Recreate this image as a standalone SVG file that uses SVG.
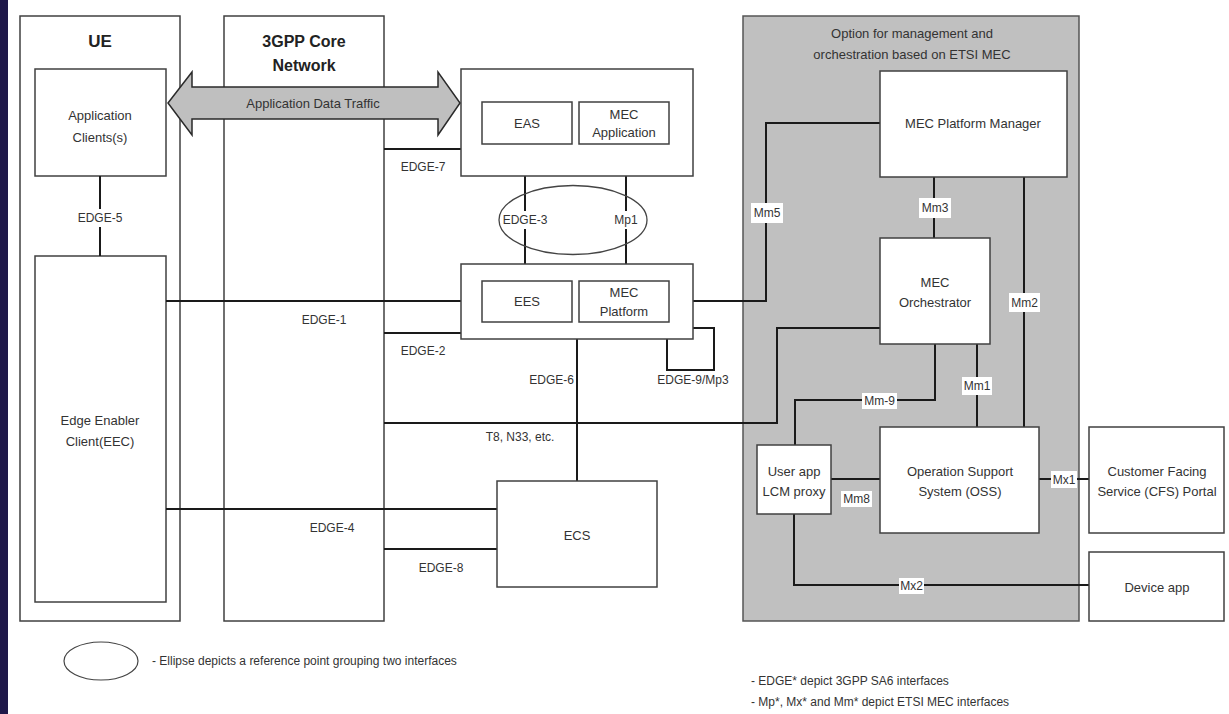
<svg xmlns="http://www.w3.org/2000/svg" width="1229" height="714" viewBox="0 0 1229 714">
<style>
.box{fill:#fff;stroke:#404040;stroke-width:1.5}
.grey{fill:#c0c0c0;stroke:#555;stroke-width:1.5}
.t{font-family:"Liberation Sans",Arial,sans-serif;font-size:13px;fill:#333;text-anchor:middle}
.l{font-family:"Liberation Sans",Arial,sans-serif;font-size:12px;fill:#333;text-anchor:middle}
.h{font-family:"Liberation Sans",Arial,sans-serif;font-weight:bold;fill:#222;text-anchor:middle}
.c{fill:none;stroke:#1a1a1a;stroke-width:2}
.bg{fill:#fff}
</style>
<rect x="0" y="0" width="1229" height="714" fill="#fff"/>
<rect x="0" y="0" width="8" height="714" fill="#1f1849"/>

<g id="ue"><rect class="box" x="20" y="16" width="160" height="605"/><text class="h" font-size="17" x="100" y="47">UE</text></g>
<g id="core"><rect class="box" x="224" y="16" width="160" height="605"/><text class="h" font-size="16" x="304" y="47">3GPP Core</text><text class="h" font-size="16" x="304" y="71">Network</text></g>
<g id="app-clients"><rect class="box" x="35" y="69" width="131" height="107"/><text class="t" x="100" y="120">Application</text><text class="t" x="100" y="142">Clients(s)</text></g>
<g id="eec"><rect class="box" x="35" y="256" width="131" height="346"/><text class="t" x="100" y="425">Edge Enabler</text><text class="t" x="100" y="446">Client(EEC)</text></g>

<g id="mgmt"><rect class="grey" x="743" y="16" width="336" height="605"/><text class="t" x="912" y="38">Option for management and</text><text class="t" x="912" y="59">orchestration based on ETSI MEC</text></g>

<g id="connectors">
<path class="c" d="M100 176V256"/>
<path class="c" d="M166 301H482"/>
<path class="c" d="M384 149H461"/>
<path class="c" d="M384 333H461"/>
<path class="c" d="M525 176V264"/>
<path class="c" d="M626 176V264"/>
<path class="c" d="M577 339V481"/>
<path class="c" d="M693 328H714V370H667V339"/>
<path class="c" d="M384 423H777V328H880"/>
<path class="c" d="M166 509H497"/>
<path class="c" d="M384 549H497"/>
<path class="c" d="M669 301H766V123H880"/>
<path class="c" d="M934 177V238"/>
<path class="c" d="M1024 177V427"/>
<path class="c" d="M977 344V427"/>
<path class="c" d="M935 344V400H795V445"/>
<path class="c" d="M831 479H880"/>
<path class="c" d="M1039 479H1089"/>
<path class="c" d="M794 514V585H1089"/>
</g>

<g id="eas-host"><rect class="box" x="461" y="69" width="232" height="107"/></g>
<g id="eas"><rect class="box" x="482" y="102" width="90" height="42"/><text class="t" x="527" y="128">EAS</text></g>
<g id="mec-app"><rect class="box" x="579" y="102" width="90" height="42"/><text class="t" x="624" y="119">MEC</text><text class="t" x="624" y="137">Application</text></g>

<g id="ees-host"><rect class="box" x="461" y="264" width="232" height="75"/></g>
<g id="ees"><rect class="box" x="482" y="281" width="90" height="41"/><text class="t" x="527" y="306">EES</text></g>
<g id="mec-platform"><rect class="box" x="579" y="281" width="90" height="41"/><text class="t" x="624" y="297">MEC</text><text class="t" x="624" y="316">Platform</text></g>

<g id="ecs"><rect class="box" x="497" y="481" width="160" height="106"/><text class="t" x="577" y="540">ECS</text></g>

<g id="mec-pm"><rect class="box" x="880" y="71" width="187" height="106"/><text class="t" x="973" y="128">MEC Platform Manager</text></g>
<g id="mec-orch"><rect class="box" x="880" y="238" width="110" height="106"/><text class="t" x="935" y="287">MEC</text><text class="t" x="935" y="307">Orchestrator</text></g>
<g id="oss"><rect class="box" x="880" y="427" width="159" height="106"/><text class="t" x="960" y="476">Operation Support</text><text class="t" x="960" y="496">System (OSS)</text></g>
<g id="lcm-proxy"><rect class="box" x="757" y="445" width="74" height="69"/><text class="t" x="794" y="476">User app</text><text class="t" x="794" y="496">LCM proxy</text></g>
<g id="cfs"><rect class="box" x="1089" y="427" width="135" height="106"/><text class="t" x="1157" y="476">Customer Facing</text><text class="t" x="1157" y="496">Service (CFS) Portal</text></g>
<g id="device-app"><rect class="box" x="1089" y="552" width="135" height="69"/><text class="t" x="1157" y="592">Device app</text></g>

<g id="reference-point"><ellipse cx="573" cy="220" rx="74" ry="34.5" fill="none" stroke="#444" stroke-width="1.3"/></g>

<g id="traffic-arrow">
<path d="M168 103L192 72V87H438V72L460 103L438 135V119H192V135Z" fill="#bfbfbf" stroke="#2a2a2a" stroke-width="1.5" stroke-linejoin="miter"/>
<text class="t" font-size="14" x="313" y="108">Application Data Traffic</text>
</g>

<g id="labels">
<rect class="bg" x="80" y="209" width="40" height="18"/><text class="l" x="100" y="222">EDGE-5</text>
<text class="l" x="324" y="324">EDGE-1</text>
<text class="l" x="423" y="171">EDGE-7</text>
<text class="l" x="423" y="355">EDGE-2</text>
<rect class="bg" x="503" y="211" width="44" height="18"/><text class="l" x="525" y="224">EDGE-3</text>
<rect class="bg" x="612" y="211" width="28" height="18"/><text class="l" x="626" y="224">Mp1</text>
<text class="l" x="574" y="384" text-anchor="end" style="text-anchor:end">EDGE-6</text>
<text class="l" x="693" y="384">EDGE-9/Mp3</text>
<text class="l" x="520" y="441">T8, N33, etc.</text>
<text class="l" x="332" y="532">EDGE-4</text>
<text class="l" x="441" y="572">EDGE-8</text>
<rect class="bg" x="751" y="203" width="32" height="20"/><text class="l" x="767" y="217">Mm5</text>
<rect class="bg" x="919" y="198" width="32" height="20"/><text class="l" x="935" y="212">Mm3</text>
<rect class="bg" x="1009" y="293" width="31" height="19"/><text class="l" x="1024.5" y="307">Mm2</text>
<rect class="bg" x="962" y="377" width="30" height="18"/><text class="l" x="977" y="390">Mm1</text>
<rect class="bg" x="862" y="393" width="35" height="16"/><text class="l" x="879.5" y="405">Mm-9</text>
<rect class="bg" x="1051" y="471" width="26" height="17"/><text class="l" x="1064" y="484">Mx1</text>
<rect class="bg" x="841" y="491" width="31" height="16"/><text class="l" x="856.5" y="503">Mm8</text>
<rect class="bg" x="899" y="578" width="25" height="16"/><text class="l" x="911.5" y="590">Mx2</text>
</g>

<g id="legend">
<ellipse cx="101" cy="661" rx="37" ry="19" fill="none" stroke="#444" stroke-width="1.2"/>
<text class="l" x="152" y="665" style="text-anchor:start">- Ellipse depicts a reference point grouping two interfaces</text>
<text class="l" x="751" y="685" style="text-anchor:start">- EDGE* depict 3GPP SA6 interfaces</text>
<text class="l" x="751" y="706" style="text-anchor:start">- Mp*, Mx* and Mm* depict ETSI MEC interfaces</text>
</g>
</svg>
